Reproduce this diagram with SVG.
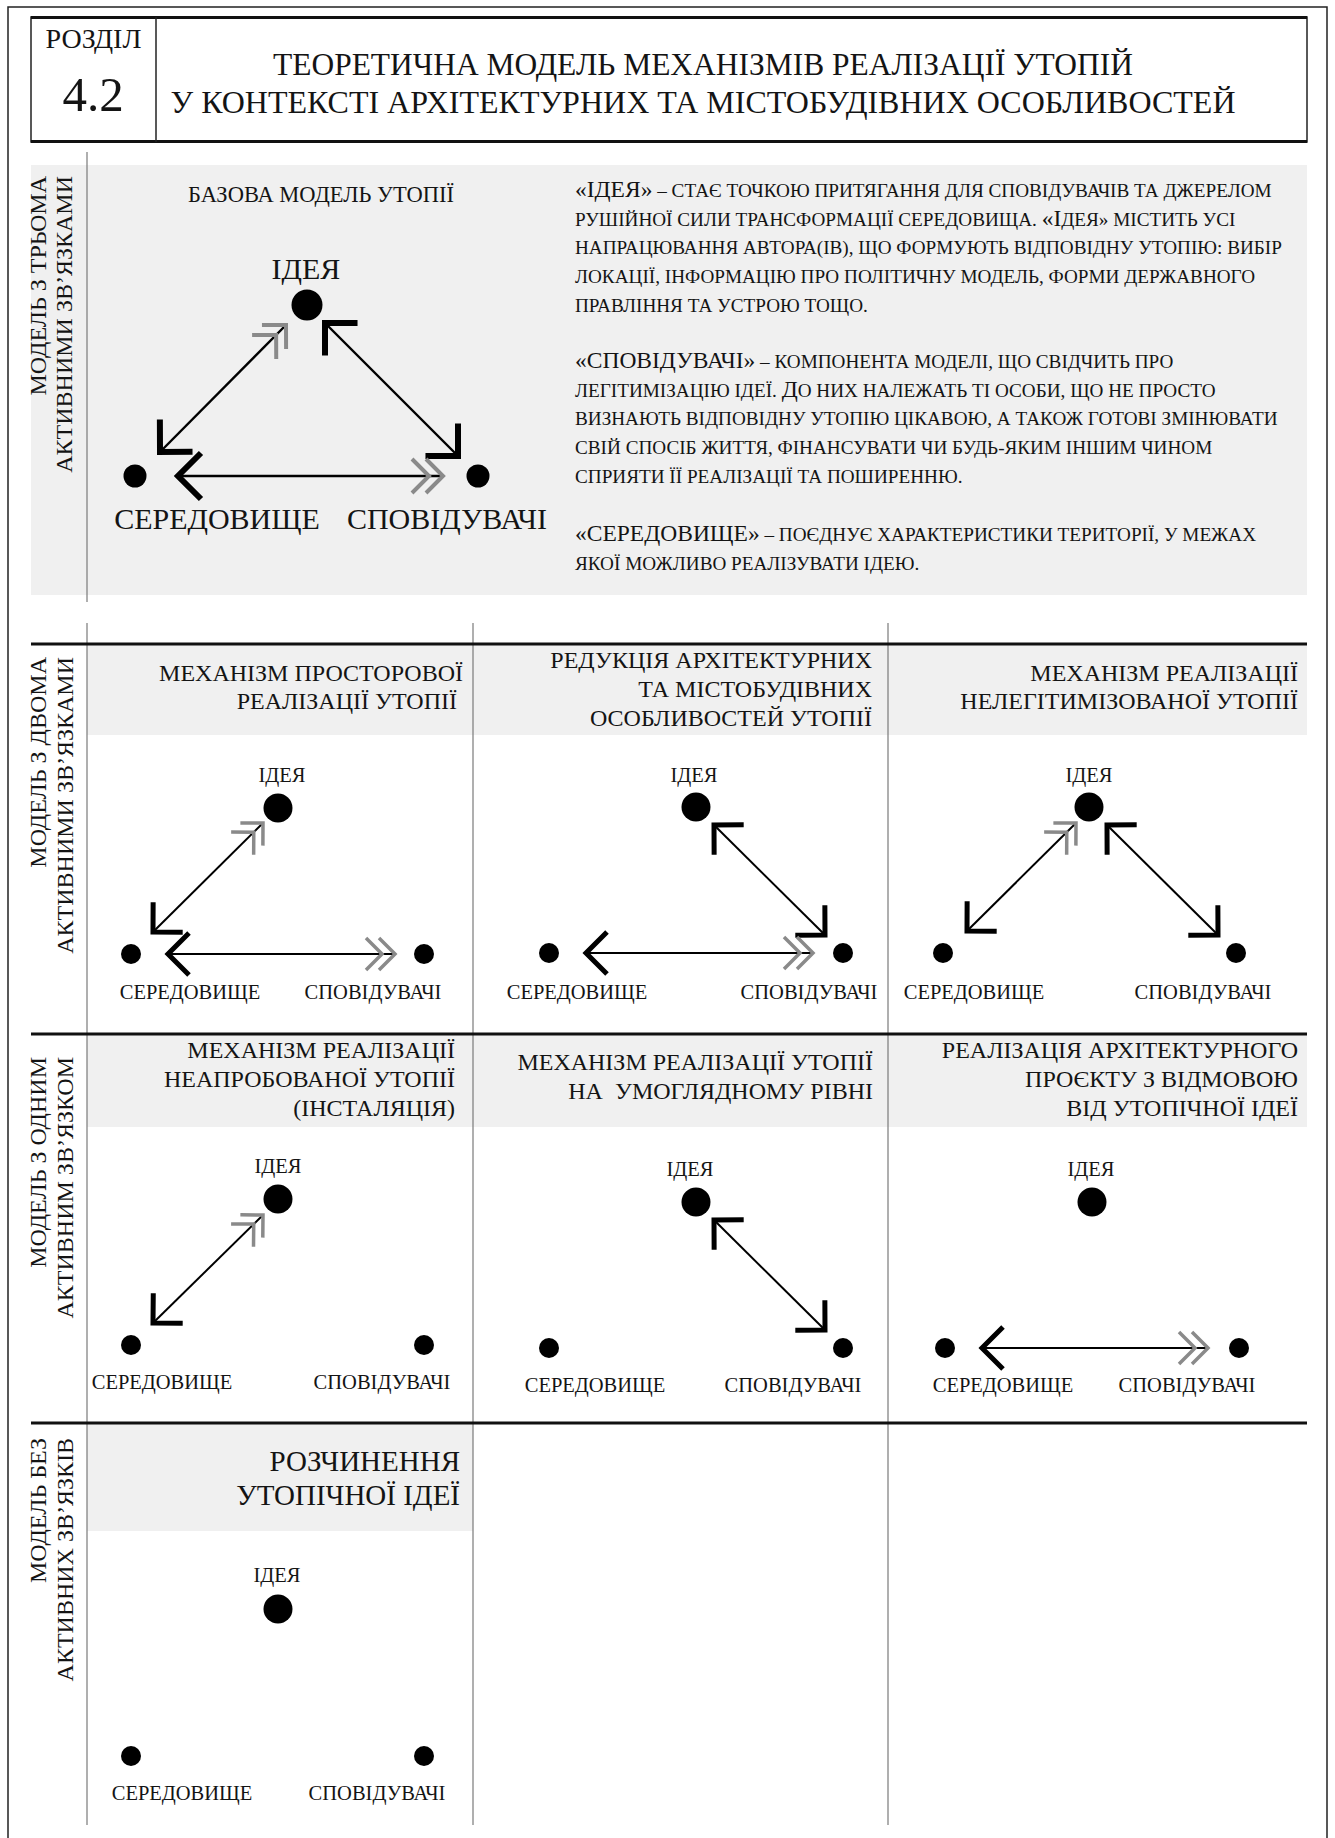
<svg xmlns="http://www.w3.org/2000/svg" width="1335" height="1838" viewBox="0 0 1335 1838">
<style>
text { font-family: "Liberation Serif", "Times New Roman", serif; fill: #141414; }
.sb { font-size: 24px; text-anchor: end; }
.hd { font-size: 24px; text-anchor: end; }
.lb { font-size: 20.5px; text-anchor: middle; }
.lbL { font-size: 30px; text-anchor: middle; }
.sm { font-size: 19.2px; }
.bg { font-size: 23.5px; }
.dot { fill: #000; }
.cn { stroke: #000; stroke-width: 2; fill: none; }
.cnL { stroke: #000; stroke-width: 2.4; fill: none; }
.grid { stroke: #7a7a7a; stroke-width: 1.2; fill: none; }
.rule { stroke: #111; stroke-width: 3; fill: none; }
.frame { stroke: #222; stroke-width: 1.5; fill: none; }
.panel { fill: #f0f0f0; }
</style>
<defs>
<marker id="bk" markerUnits="userSpaceOnUse" orient="auto-start-reverse" markerWidth="80" markerHeight="80" viewBox="-40 -40 80 80" refX="0" refY="0" overflow="visible">
<path d="M-21,-21 L0,0 L-21,21" fill="none" stroke="#000" stroke-width="5"/>
</marker>
<marker id="bkL" markerUnits="userSpaceOnUse" orient="auto-start-reverse" markerWidth="80" markerHeight="80" viewBox="-40 -40 80 80" refX="0" refY="0" overflow="visible">
<path d="M-23,-23 L0,0 L-23,23" fill="none" stroke="#000" stroke-width="6"/>
</marker>
<marker id="gr" markerUnits="userSpaceOnUse" orient="auto-start-reverse" markerWidth="80" markerHeight="80" viewBox="-40 -40 80 80" refX="0" refY="0" overflow="visible">
<path d="M-16,-16 L0,0 L-16,16 M-29,-16 L-13,0 L-29,16" fill="none" stroke="#8a8a8a" stroke-width="3.5"/>
</marker>
<marker id="grL" markerUnits="userSpaceOnUse" orient="auto-start-reverse" markerWidth="80" markerHeight="80" viewBox="-40 -40 80 80" refX="0" refY="0" overflow="visible">
<path d="M-17,-17 L0,0 L-17,17 M-31,-17 L-14,0 L-31,17" fill="none" stroke="#8a8a8a" stroke-width="4"/>
</marker>
</defs>

<rect width="1335" height="1838" fill="#fff"/>

<g id="frame">
<path class="frame" d="M8,1838 V7 H1327 V1838"/>
</g>
<g id="header">
<rect x="31" y="17" width="1276" height="125" fill="none" stroke="#222" stroke-width="1.5"/>
<line x1="31" y1="17.5" x2="1307" y2="17.5" stroke="#111" stroke-width="3"/>
<line x1="31" y1="141.5" x2="1307" y2="141.5" stroke="#111" stroke-width="3"/>
<line x1="156" y1="17" x2="156" y2="142" stroke="#222" stroke-width="1.5"/>
<text x="93.5" y="48" style="font-size:28px" text-anchor="middle">РОЗДІЛ</text>
<text x="93" y="111" style="font-size:49px" text-anchor="middle">4.2</text>
<text x="703" y="75" style="font-size:31px" text-anchor="middle" textLength="860" lengthAdjust="spacingAndGlyphs">ТЕОРЕТИЧНА МОДЕЛЬ МЕХАНІЗМІВ РЕАЛІЗАЦІЇ УТОПІЙ</text>
<text x="703" y="113" style="font-size:31px" text-anchor="middle" textLength="1065" lengthAdjust="spacingAndGlyphs">У КОНТЕКСТІ АРХІТЕКТУРНИХ ТА МІСТОБУДІВНИХ ОСОБЛИВОСТЕЙ</text>
</g>

<g id="panels">
<rect class="panel" x="31" y="165" width="1276" height="430"/>
<rect class="panel" x="87" y="645" width="1220" height="90"/>
<rect class="panel" x="87" y="1035" width="1220" height="92"/>
<rect class="panel" x="87" y="1424" width="386" height="107"/>
</g>

<g id="grid">
<line class="grid" x1="87" y1="152" x2="87" y2="602"/>
<line class="grid" x1="87" y1="623" x2="87" y2="1825"/>
<line class="grid" x1="473" y1="623" x2="473" y2="1825"/>
<line class="grid" x1="888" y1="623" x2="888" y2="1825"/>
<line class="rule" x1="31" y1="644" x2="1307" y2="644"/>
<line class="rule" x1="31" y1="1034" x2="1307" y2="1034"/>
<line class="rule" x1="31" y1="1423" x2="1307" y2="1423"/>
</g>

<g id="sidebar">
<text class="sb" transform="translate(46,176) rotate(-90)">МОДЕЛЬ З ТРЬОМА</text>
<text class="sb" transform="translate(72,176) rotate(-90)">АКТИВНИМИ ЗВ’ЯЗКАМИ</text>
<text class="sb" transform="translate(46,657) rotate(-90)">МОДЕЛЬ З ДВОМА</text>
<text class="sb" transform="translate(73,657) rotate(-90)">АКТИВНИМИ ЗВ’ЯЗКАМИ</text>
<text class="sb" transform="translate(46,1057) rotate(-90)">МОДЕЛЬ З ОДНИМ</text>
<text class="sb" transform="translate(73,1057) rotate(-90)">АКТИВНИМ ЗВ’ЯЗКОМ</text>
<text class="sb" transform="translate(46,1438) rotate(-90)">МОДЕЛЬ БЕЗ</text>
<text class="sb" transform="translate(73,1438) rotate(-90)">АКТИВНИХ ЗВ’ЯЗКІВ</text>
</g>

<g id="titles">
<text x="321" y="202" style="font-size:22.5px" text-anchor="middle">БАЗОВА МОДЕЛЬ УТОПІЇ</text>
<text class="hd" x="463" y="681">МЕХАНІЗМ ПРОСТОРОВОЇ</text>
<text class="hd" x="457" y="709">РЕАЛІЗАЦІЇ УТОПІЇ</text>
<text class="hd" x="872" y="668">РЕДУКЦІЯ АРХІТЕКТУРНИХ</text>
<text class="hd" x="872" y="697">ТА МІСТОБУДІВНИХ</text>
<text class="hd" x="872" y="726">ОСОБЛИВОСТЕЙ УТОПІЇ</text>
<text class="hd" x="1298" y="681">МЕХАНІЗМ РЕАЛІЗАЦІЇ</text>
<text class="hd" x="1298" y="709">НЕЛЕГІТИМІЗОВАНОЇ УТОПІЇ</text>
<text class="hd" x="455" y="1058">МЕХАНІЗМ РЕАЛІЗАЦІЇ</text>
<text class="hd" x="455" y="1087">НЕАПРОБОВАНОЇ УТОПІЇ</text>
<text class="hd" x="455" y="1116">(ІНСТАЛЯЦІЯ)</text>
<text class="hd" x="873" y="1070">МЕХАНІЗМ РЕАЛІЗАЦІЇ УТОПІЇ</text>
<text class="hd" x="873" y="1099" xml:space="preserve">НА  УМОГЛЯДНОМУ РІВНІ</text>
<text class="hd" x="1298" y="1058">РЕАЛІЗАЦІЯ АРХІТЕКТУРНОГО</text>
<text class="hd" x="1298" y="1087">ПРОЄКТУ З ВІДМОВОЮ</text>
<text class="hd" x="1298" y="1116">ВІД УТОПІЧНОЇ ІДЕЇ</text>
<text class="hd" x="460" y="1471" style="font-size:29px">РОЗЧИНЕННЯ</text>
<text class="hd" x="460" y="1505" style="font-size:29px">УТОПІЧНОЇ ІДЕЇ</text>
</g>

<g id="description">
<text x="575" y="197"><tspan class="bg">«ІДЕЯ»</tspan><tspan class="sm"> – СТАЄ ТОЧКОЮ ПРИТЯГАННЯ ДЛЯ СПОВІДУВАЧІВ ТА ДЖЕРЕЛОМ</tspan></text>
<text x="575" y="226"><tspan class="sm">РУШІЙНОЇ СИЛИ ТРАНСФОРМАЦІЇ СЕРЕДОВИЩА. </tspan><tspan class="bg">«І</tspan><tspan class="sm">ДЕЯ» МІСТИТЬ УСІ</tspan></text>
<text x="575" y="254" class="sm">НАПРАЦЮВАННЯ АВТОРА(ІВ), ЩО ФОРМУЮТЬ ВІДПОВІДНУ УТОПІЮ: ВИБІР</text>
<text x="575" y="283" class="sm">ЛОКАЦІЇ, ІНФОРМАЦІЮ ПРО ПОЛІТИЧНУ МОДЕЛЬ, ФОРМИ ДЕРЖАВНОГО</text>
<text x="575" y="312" class="sm">ПРАВЛІННЯ ТА УСТРОЮ ТОЩО.</text>
<text x="575" y="368"><tspan class="bg">«СПОВІДУВАЧІ»</tspan><tspan class="sm"> – КОМПОНЕНТА МОДЕЛІ, ЩО СВІДЧИТЬ ПРО</tspan></text>
<text x="575" y="397"><tspan class="sm">ЛЕГІТИМІЗАЦІЮ ІДЕЇ. </tspan><tspan class="bg">Д</tspan><tspan class="sm">О НИХ НАЛЕЖАТЬ ТІ ОСОБИ, ЩО НЕ ПРОСТО</tspan></text>
<text x="575" y="425" class="sm">ВИЗНАЮТЬ ВІДПОВІДНУ УТОПІЮ ЦІКАВОЮ, А ТАКОЖ ГОТОВІ ЗМІНЮВАТИ</text>
<text x="575" y="454" class="sm">СВІЙ СПОСІБ ЖИТТЯ, ФІНАНСУВАТИ ЧИ БУДЬ-ЯКИМ ІНШИМ ЧИНОМ</text>
<text x="575" y="483" class="sm">СПРИЯТИ ЇЇ РЕАЛІЗАЦІЇ ТА ПОШИРЕННЮ.</text>
<text x="575" y="541"><tspan class="bg">«СЕРЕДОВИЩЕ»</tspan><tspan class="sm"> – ПОЄДНУЄ ХАРАКТЕРИСТИКИ ТЕРИТОРІЇ, У МЕЖАХ</tspan></text>
<text x="575" y="570" class="sm">ЯКОЇ МОЖЛИВО РЕАЛІЗУВАТИ ІДЕЮ.</text>
</g>

<g id="connectors">
<line class="cnL" x1="160" y1="452" x2="286" y2="325" marker-start="url(#bkL)" marker-end="url(#grL)"/>
<line class="cnL" x1="325" y1="323" x2="458" y2="456" marker-start="url(#bkL)" marker-end="url(#bkL)"/>
<line class="cnL" x1="178" y1="476" x2="443" y2="476" marker-start="url(#bkL)" marker-end="url(#grL)"/>
<line class="cn" x1="153" y1="932" x2="263" y2="823" marker-start="url(#bk)" marker-end="url(#gr)"/>
<line class="cn" x1="168" y1="954" x2="395" y2="954" marker-start="url(#bk)" marker-end="url(#gr)"/>
<line class="cn" x1="714" y1="825" x2="825" y2="935" marker-start="url(#bk)" marker-end="url(#bk)"/>
<line class="cn" x1="586" y1="953" x2="813" y2="953" marker-start="url(#bk)" marker-end="url(#gr)"/>
<line class="cn" x1="967" y1="931" x2="1076" y2="823" marker-start="url(#bk)" marker-end="url(#gr)"/>
<line class="cn" x1="1107" y1="825" x2="1218" y2="935" marker-start="url(#bk)" marker-end="url(#bk)"/>
<line class="cn" x1="153" y1="1323" x2="263" y2="1215" marker-start="url(#bk)" marker-end="url(#gr)"/>
<line class="cn" x1="714" y1="1220" x2="825" y2="1330" marker-start="url(#bk)" marker-end="url(#bk)"/>
<line class="cn" x1="982" y1="1348" x2="1208" y2="1348" marker-start="url(#bk)" marker-end="url(#gr)"/>
</g>

<g id="base-idea"><circle class="dot" cx="307" cy="305" r="15.5"/><text class="lbL" x="306" y="279">ІДЕЯ</text></g>
<g id="base-env"><circle class="dot" cx="135" cy="476" r="11.5"/><text class="lbL" x="217" y="529">СЕРЕДОВИЩЕ</text></g>
<g id="base-fol"><circle class="dot" cx="478" cy="476" r="11.5"/><text class="lbL" x="447" y="529">СПОВІДУВАЧІ</text></g>

<g id="r2c1-idea"><circle class="dot" cx="278" cy="808" r="14.5"/><text class="lb" x="282" y="782">ІДЕЯ</text></g>
<g id="r2c1-env"><circle class="dot" cx="131" cy="954" r="10"/><text class="lb" x="190" y="999">СЕРЕДОВИЩЕ</text></g>
<g id="r2c1-fol"><circle class="dot" cx="424" cy="954" r="10"/><text class="lb" x="373" y="999">СПОВІДУВАЧІ</text></g>

<g id="r2c2-idea"><circle class="dot" cx="696" cy="807" r="14.5"/><text class="lb" x="694" y="782">ІДЕЯ</text></g>
<g id="r2c2-env"><circle class="dot" cx="549" cy="953" r="10"/><text class="lb" x="577" y="999">СЕРЕДОВИЩЕ</text></g>
<g id="r2c2-fol"><circle class="dot" cx="843" cy="953" r="10"/><text class="lb" x="809" y="999">СПОВІДУВАЧІ</text></g>

<g id="r2c3-idea"><circle class="dot" cx="1089" cy="807" r="14.5"/><text class="lb" x="1089" y="782">ІДЕЯ</text></g>
<g id="r2c3-env"><circle class="dot" cx="943" cy="953" r="10"/><text class="lb" x="974" y="999">СЕРЕДОВИЩЕ</text></g>
<g id="r2c3-fol"><circle class="dot" cx="1236" cy="953" r="10"/><text class="lb" x="1203" y="999">СПОВІДУВАЧІ</text></g>

<g id="r3c1-idea"><circle class="dot" cx="278" cy="1199" r="14.5"/><text class="lb" x="278" y="1173">ІДЕЯ</text></g>
<g id="r3c1-env"><circle class="dot" cx="131" cy="1345" r="10"/><text class="lb" x="162" y="1389">СЕРЕДОВИЩЕ</text></g>
<g id="r3c1-fol"><circle class="dot" cx="424" cy="1345" r="10"/><text class="lb" x="382" y="1389">СПОВІДУВАЧІ</text></g>

<g id="r3c2-idea"><circle class="dot" cx="696" cy="1202" r="14.5"/><text class="lb" x="690" y="1176">ІДЕЯ</text></g>
<g id="r3c2-env"><circle class="dot" cx="549" cy="1348" r="10"/><text class="lb" x="595" y="1392">СЕРЕДОВИЩЕ</text></g>
<g id="r3c2-fol"><circle class="dot" cx="843" cy="1348" r="10"/><text class="lb" x="793" y="1392">СПОВІДУВАЧІ</text></g>

<g id="r3c3-idea"><circle class="dot" cx="1092" cy="1202" r="14.5"/><text class="lb" x="1091" y="1176">ІДЕЯ</text></g>
<g id="r3c3-env"><circle class="dot" cx="945" cy="1348" r="10"/><text class="lb" x="1003" y="1392">СЕРЕДОВИЩЕ</text></g>
<g id="r3c3-fol"><circle class="dot" cx="1239" cy="1348" r="10"/><text class="lb" x="1187" y="1392">СПОВІДУВАЧІ</text></g>

<g id="r4c1-idea"><circle class="dot" cx="278" cy="1609" r="14.5"/><text class="lb" x="277" y="1582">ІДЕЯ</text></g>
<g id="r4c1-env"><circle class="dot" cx="131" cy="1756" r="10"/><text class="lb" x="182" y="1800">СЕРЕДОВИЩЕ</text></g>
<g id="r4c1-fol"><circle class="dot" cx="424" cy="1756" r="10"/><text class="lb" x="377" y="1800">СПОВІДУВАЧІ</text></g>
</svg>
